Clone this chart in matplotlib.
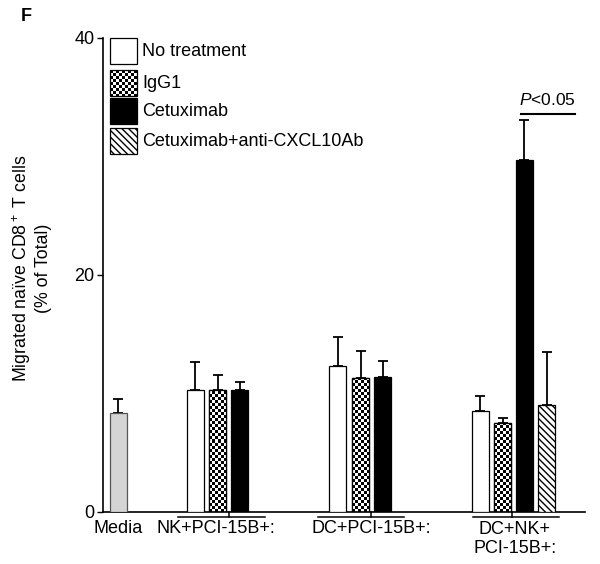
import numpy as np
import matplotlib
matplotlib.use('Agg')
import matplotlib.pyplot as plt
from matplotlib.patches import Rectangle

plt.rcParams['font.family'] = ['Liberation Sans', 'DejaVu Sans']
plt.rcParams['mathtext.fontset'] = 'custom'
plt.rcParams['mathtext.rm'] = 'Liberation Sans'
plt.rcParams['mathtext.it'] = 'Liberation Sans:italic'
plt.rcParams['hatch.linewidth'] = 1.0

# Data (% of total migrated naive CD8+ T cells)
treatments = ['No treatment', 'IgG1', 'Cetuximab', 'Cetuximab+anti-CXCL10Ab']
media_mean = 8.35
media_err = 9.5
nk_mean = [10.3, 10.3, 10.3]
nk_top = [12.68, 11.59, 10.94]
dc_mean = [12.32, 11.3, 11.42]
dc_top = [14.8, 13.6, 12.74]
dcnk_mean = [8.5, 7.5, 29.7, 9.03]
dcnk_top = [9.8, 7.93, 33.08, 13.53]
group_labels = ['Media', 'NK+PCI-15B+:', 'DC+PCI-15B+:', 'DC+NK+\nPCI-15B+:']
p_text = r'$\it{P}$<0.05'
p_level = 33.56

fig = plt.figure(figsize=(6.0, 5.64), dpi=100)
ax = fig.add_axes([103 / 600, 1 - 512 / 564, 482 / 600, 474 / 564])

width = 0.77
stripes = '\\' * 5
styles = [dict(color='white', hatch=None), dict(color='checker', hatch=None),
          dict(color='black', hatch=None), dict(color='white', hatch=stripes)]


def checker(axis, x0, y0, w, h, sx, sy, clip):
    nx = int(np.ceil(w / sx)) + 1
    ny = int(np.ceil(h / sy)) + 1
    img = np.indices((ny, nx)).sum(0) % 2
    im = axis.imshow(img, cmap='gray', interpolation='nearest', origin='lower',
                     extent=(x0, x0 + nx * sx, y0, y0 + ny * sy), aspect='auto', zorder=2)
    im.set_clip_path(clip)


def draw_bar(x, mean, top, style):
    face = 'white' if style['color'] in ('white', 'checker') else style['color']
    b = ax.bar(x, mean, width, color=face, edgecolor='black', linewidth=0.9,
               hatch=style['hatch'], zorder=3 if style['color'] != 'checker' else 1)[0]
    if style['color'] == 'checker':
        checker(ax, x - width / 2, 0, width, mean, 0.136, 0.253, b)
        ax.add_patch(Rectangle((x - width / 2, 0), width, mean, fill=False,
                               edgecolor='black', linewidth=0.9, zorder=3))
    ax.errorbar(x, mean, yerr=[[0], [top - mean]], fmt='none', ecolor='black',
                elinewidth=1.3, capsize=3.3, capthick=1.3, zorder=2)


# Media bar
ax.bar(0.7, media_mean, width, color='#d4d4d4', edgecolor='#555555', linewidth=0.9, zorder=3)
ax.errorbar(0.7, media_mean, yerr=[[0], [media_err - media_mean]], fmt='none',
            ecolor='black', elinewidth=1.3, capsize=3.3, capthick=1.3, zorder=2)

group_x = [[4.2, 5.22, 6.22], [10.66, 11.7, 12.7], [17.14, 18.16, 19.14, 20.16]]
group_data = [(nk_mean, nk_top), (dc_mean, dc_top), (dcnk_mean, dcnk_top)]
for xs, (means, tops) in zip(group_x, group_data):
    for i, (x, m, t) in enumerate(zip(xs, means, tops)):
        draw_bar(x, m, t, styles[i])

# group underlines below the axis
lines = [(3.41, 7.36, 5.73), (9.77, 13.68, 12.18), (16.8, 20.7, 18.6)]
for x0, x1, xt in lines:
    ax.plot([x0, x1], [-0.42, -0.42], color='black', lw=1.1, clip_on=False)
    ax.plot([xt, xt], [-0.42, 0], color='black', lw=1.1, clip_on=False)

label_x = [0.7, 5.14, 12.2, 18.7]
for x, lab in zip(label_x, group_labels):
    if '\n' in lab:
        ax.text(x, -0.75, lab, ha='center', va='top', fontsize=13,
                linespacing=1.2, clip_on=False)
    else:
        ax.text(x, -1.4, lab, ha='center', va='center', fontsize=13, clip_on=False)

# significance bar
ax.plot([19.0, 21.45], [p_level, p_level], color='black', lw=1.5, clip_on=False)
ax.text(20.2, 34.75, p_text, ha='center', va='center', fontsize=12.5)

ax.set_xlim(0, 21.9)
ax.set_ylim(0, 40)
ax.set_yticks([0, 20, 40])
ax.tick_params(axis='y', length=4, width=1.0, labelsize=13, pad=2)
ax.tick_params(axis='x', length=0, labelbottom=False)
ax.spines['top'].set_visible(False)
ax.spines['right'].set_visible(False)
ax.spines['left'].set_linewidth(1.2)
ax.spines['bottom'].set_linewidth(1.2)

fig.text(31 / 600, 1 - 268 / 564, 'Migrated na\u00efve CD8$^+$ T cells\n(% of Total)',
         rotation=90, ha='center', va='center', fontsize=12.8, multialignment='center',
         linespacing=1.1)
fig.text(26.5 / 600, 1 - 16.5 / 564, 'F', fontsize=13, fontweight='bold', ha='center', va='center')

# legend drawn in pixel space
lg = fig.add_axes([0, 0, 1, 1], zorder=5)
lg.set_xlim(0, 600)
lg.set_ylim(564, 0)
lg.axis('off')
lg.patch.set_alpha(0)
box_y = [38, 70, 98, 128]
for i, (y, name) in enumerate(zip(box_y, treatments)):
    st = styles[i]
    if st['color'] == 'checker':
        clip = Rectangle((110, y), 27, 26, transform=lg.transData)
        checker(lg, 110, y, 27, 26, 3, 3, clip)
        lg.set_xlim(0, 600)
        lg.set_ylim(564, 0)
        lg.add_patch(Rectangle((110, y), 27, 26, fill=False, edgecolor='black', lw=0.9, zorder=3))
    else:
        lg.add_patch(Rectangle((110, y), 27, 26, facecolor=st['color'], edgecolor='black',
                               lw=0.9, hatch=st['hatch'], zorder=3))
    lg.text(142, y + 13.5, name, ha='left', va='center', fontsize=13)

fig.savefig('out.png', dpi=100)
